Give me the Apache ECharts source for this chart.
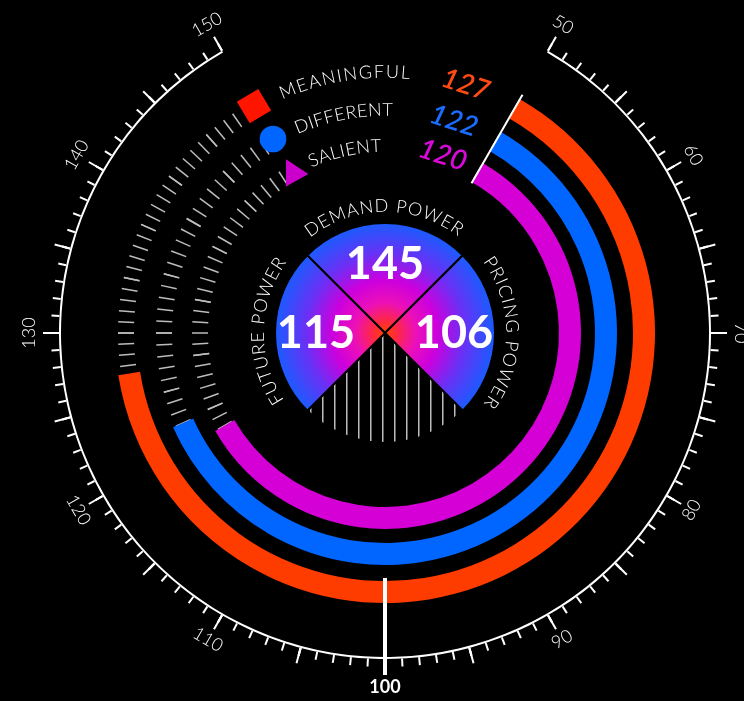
<!DOCTYPE html>
<html>
<head>
<meta charset="utf-8">
<style>
  html, body { margin: 0; padding: 0; background: #000; }
  #chart { width: 744px; height: 701px; }
</style>
<script src="https://cdn.jsdelivr.net/npm/echarts@6/dist/echarts.min.js"></script>
</head>
<body>
<div id="chart"></div>
<script>
// Index dial: three attribute rings read on a 50–150 scale (100 = average),
// with the three "power" scores shown in the quartered disc at the centre.

const scaleMin = 50;
const scaleMax = 150;
const scaleLabels = [50, 60, 70, 80, 90, 100, 110, 120, 130, 140, 150];
const benchmark = 100;

const attributeNames = ['MEANINGFUL', 'DIFFERENT', 'SALIENT'];
const attributeScores = [127, 122, 120];

const powerNames = ['DEMAND POWER', 'PRICING POWER', 'FUTURE POWER'];
const powerScores = [145, 106, 115];
// each power fills one quarter of the disc; the last quarter stays hatched
const quarterWeights = [1, 1, 1, 1];

// ---- layout & style ----
const CX = 385, CY = 333;
const START = 60, END = -240;
const SCALE_R = 326;
const LABEL_R = 354;
const ringOuterR = [270, 232, 196];
const ringWidth = 22;
const ringTickSplits = [25, 20, 18];
const ringColors = ['#ff3c00', '#0066ff', '#d500d5'];
const scoreColors = ['#ff4a14', '#1a6dff', '#d90ad9'];
const FONT = 'Lato, "Noto Sans", sans-serif';

function baseGauge(extra) {
  return Object.assign({
    type: 'gauge',
    center: [CX, CY],
    startAngle: START,
    endAngle: END,
    min: scaleMin,
    max: scaleMax,
    silent: true,
    axisLine: { show: false, lineStyle: { width: 0 } },
    splitLine: { show: false, length: 0, distance: 0 },
    axisTick: { show: false },
    axisLabel: { show: false },
    pointer: { show: false },
    progress: { show: false },
    anchor: { show: false },
    title: { show: false },
    detail: { show: false },
    data: [{ value: scaleMin }]
  }, extra);
}

const isUpper = v => scaleLabels.includes(v) && (v <= 70 || v >= 130);
const isLower = v => scaleLabels.includes(v) && v > 70 && v < 130 && v !== benchmark;

const series = [];

// outer scale: axis, ticks, upper labels
series.push(baseGauge({
  radius: SCALE_R,
  splitNumber: 20,
  axisLine: { show: true, lineStyle: { width: 2, color: [[1, '#ffffff']] } },
  splitLine: { show: true, length: 16, distance: -18, lineStyle: { color: '#fff', width: 2 } },
  axisTick: { show: true, splitNumber: 5, length: 8, distance: -10, lineStyle: { color: '#fff', width: 2 } },
  axisLabel: {
    show: true, rotate: 'tangential', distance: -(LABEL_R - SCALE_R),
    color: '#fff', fontFamily: FONT, fontWeight: 300, fontSize: 18,
    formatter: v => (isUpper(v) ? String(v) : '')
  }
}));

// lower labels: the dial is turned half a turn and the labels pushed through
// the centre, so the tangential text stays upright along the bottom
series.push(baseGauge({
  startAngle: START + 180,
  endAngle: END + 180,
  radius: SCALE_R,
  splitNumber: 20,
  axisLabel: {
    show: true, rotate: 'tangential', distance: SCALE_R + LABEL_R,
    color: '#fff', fontFamily: FONT, fontWeight: 300, fontSize: 18,
    formatter: v => (isLower(v) ? String(v) : '')
  }
}));

// attribute rings: dotted track plus filled progress
attributeScores.forEach((score, i) => {
  series.push(baseGauge({
    radius: ringOuterR[i],
    splitNumber: ringTickSplits[i],
    axisTick: { show: true, splitNumber: 5, length: 16, distance: 3, lineStyle: { color: '#bdbdbd', width: 1.5 } },
    progress: { show: true, overlap: true, width: ringWidth, roundCap: false, itemStyle: { color: ringColors[i] } },
    data: [{ value: score, name: attributeNames[i] }]
  }));
});

// start marker at the bottom of the scale
series.push(baseGauge({
  z: 6,
  radius: 300,
  pointer: { show: true, icon: 'rect', width: 2, length: 102, offsetCenter: [0, -173], itemStyle: { color: '#fff' } },
  data: [{ value: scaleMin }]
}));

// benchmark marker with its bold label
series.push(baseGauge({
  z: 6,
  radius: 300,
  pointer: { show: true, icon: 'rect', width: 4, length: 97, offsetCenter: [0, -245], itemStyle: { color: '#fff' } },
  detail: {
    show: true, offsetCenter: [0, LABEL_R], formatter: '{value}', valueAnimation: false,
    color: '#fff', fontFamily: FONT, fontWeight: 'bold', fontSize: 18
  },
  data: [{ value: benchmark }]
}));

// centre disc
const discGradient = {
  type: 'radial', x: CX, y: CY, r: 110, global: true,
  colorStops: [
    { offset: 0, color: '#ff4400' },
    { offset: 0.1, color: '#ff2a3a' },
    { offset: 0.28, color: '#ec10b8' },
    { offset: 0.48, color: '#cc00dd' },
    { offset: 0.72, color: '#6a30f5' },
    { offset: 1, color: '#1a5cff' }
  ]
};

const hatchCanvas = document.createElement('canvas');
hatchCanvas.width = 12;
hatchCanvas.height = 12;
(function () {
  const g = hatchCanvas.getContext('2d');
  g.fillStyle = '#bdbdbd';
  g.fillRect(10, 0, 1.5, 12);
})();
const hatchFill = { image: hatchCanvas, repeat: 'repeat' };

// quarter order, clockwise from the top: demand, pricing, (hatched), future
const discItems = [
  { name: powerNames[0], score: powerScores[0], fill: discGradient },
  { name: powerNames[1], score: powerScores[1], fill: discGradient },
  { name: '', score: '', fill: hatchFill },
  { name: powerNames[2], score: powerScores[2], fill: discGradient }
];

series.push({
  type: 'pie',
  center: [CX, CY],
  radius: [0, 110],
  startAngle: 135,
  clockwise: true,
  silent: true,
  label: { show: false },
  labelLine: { show: false },
  itemStyle: { borderColor: '#000', borderWidth: 2 },
  data: discItems.map((d, i) => ({ value: quarterWeights[i], name: d.name, itemStyle: { color: d.fill } }))
});

series.push({
  type: 'pie',
  center: [CX, CY],
  radius: [0, 132],
  startAngle: 135,
  clockwise: true,
  silent: true,
  itemStyle: { color: 'rgba(0,0,0,0)' },
  labelLine: { show: false },
  label: {
    show: true, position: 'inside', color: '#fff',
    fontFamily: FONT, fontWeight: 'bold', fontSize: 45,
    formatter: p => String(p.data.score)
  },
  data: discItems.map((d, i) => ({ value: quarterWeights[i], name: d.name, score: d.score }))
});

// ---- text set along arcs ----
const measureCtx = document.createElement('canvas').getContext('2d');
const rad = d => d * Math.PI / 180;

function arcText(text, r, fromDeg, toDeg, font, color) {
  measureCtx.font = font;
  const chars = [...text];
  const widths = chars.map(ch => measureCtx.measureText(ch).width);
  const total = widths.reduce((a, b) => a + b, 0);
  const arcLen = rad(fromDeg - toDeg) * r;
  const gap = (arcLen - total) / (chars.length - 1);
  const els = [];
  let s = 0;
  chars.forEach((ch, i) => {
    const mid = s + widths[i] / 2;
    const a = fromDeg - (mid / r) * 180 / Math.PI;
    els.push({
      type: 'text', silent: true, z: 100,
      x: CX + r * Math.cos(rad(a)),
      y: CY - r * Math.sin(rad(a)),
      rotation: rad(a - 90),
      style: { text: ch, font: font, fill: color, align: 'center', verticalAlign: 'middle' }
    });
    s += widths[i] + gap;
  });
  return els;
}

function polarPoint(r, a) {
  return [CX + r * Math.cos(rad(a)), CY - r * Math.sin(rad(a))];
}

const graphics = [];

// power names around the disc
const powerFont = '300 18px ' + FONT;
graphics.push(...arcText(powerNames[0], 127, 128, 53, powerFont, '#fff'));
graphics.push(...arcText(powerNames[1], 127, 36, -35.5, powerFont, '#fff'));
graphics.push(...arcText(powerNames[2], 127, 213.5, 144.5, powerFont, '#fff'));

// ring names, legend glyphs and scores in the gap of the dial
const ringMidR = ringOuterR.map(r => r - ringWidth / 2);
const legendFont = '300 18px ' + FONT;
const legendSpans = [[113.7, 84.5], [113.7, 88], [114, 91.2]];
attributeNames.forEach((name, i) => {
  graphics.push(...arcText(name, ringMidR[i] + 2, legendSpans[i][0], legendSpans[i][1], legendFont, '#fff'));
});

const sq = polarPoint(ringMidR[0] + 3, 120);
graphics.push({
  type: 'rect', silent: true, z: 100, x: sq[0], y: sq[1], rotation: rad(31),
  shape: { x: -12.5, y: -12.5, width: 25, height: 25 },
  style: { fill: '#ff1400' }
});
const ci = polarPoint(ringMidR[1] + 3, 120);
graphics.push({
  type: 'circle', silent: true, z: 100, x: ci[0], y: ci[1],
  shape: { cx: 0, cy: 0, r: 13.3 },
  style: { fill: '#0066ff' }
});
const tr = polarPoint(ringMidR[2] + 1, 120);
graphics.push({
  type: 'polygon', silent: true, z: 100, x: tr[0], y: tr[1],
  shape: { points: [[-6, -12.7], [-6, 14.7], [16.3, 2]] },
  style: { fill: '#cc00cc' }
});

attributeScores.forEach((score, i) => {
  const p = polarPoint(ringMidR[i] + 2, 72);
  graphics.push({
    type: 'text', silent: true, z: 100, x: p[0], y: p[1], rotation: rad(72 - 90),
    style: {
      text: String(score), font: 'italic 600 28px ' + FONT, fill: scoreColors[i],
      align: 'center', verticalAlign: 'middle'
    }
  });
});

const chart = echarts.init(document.getElementById('chart'), null, { renderer: 'canvas' });
chart.setOption({
  backgroundColor: '#000',
  animation: false,
  series: series,
  graphic: { elements: graphics }
});
</script>
</body>
</html>
